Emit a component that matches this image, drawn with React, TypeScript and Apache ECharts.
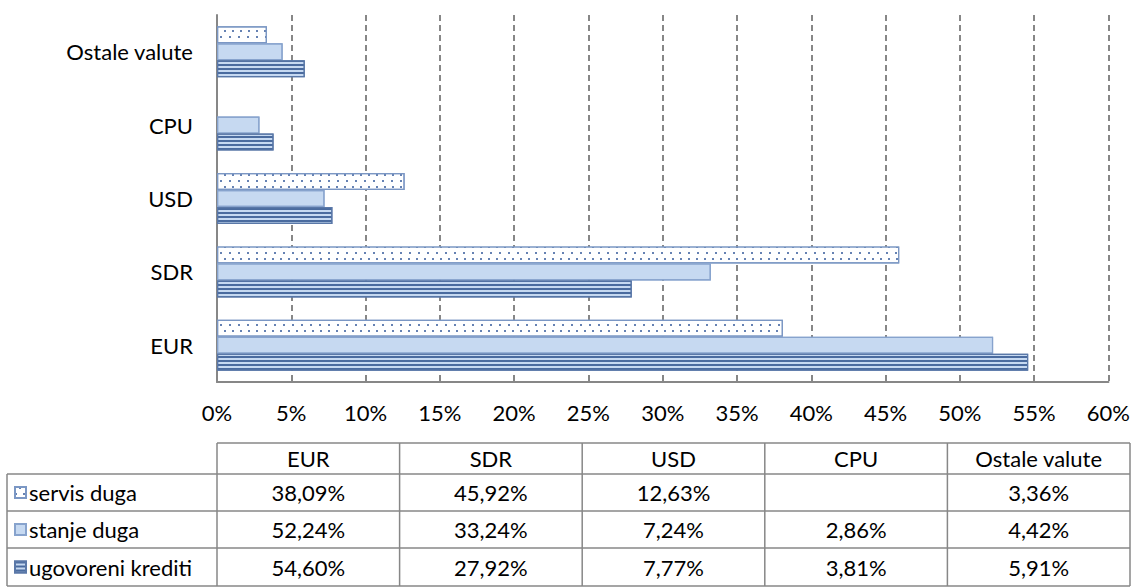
import React, { useEffect, useRef } from "react";
import * as echarts from "echarts";

const categories = ["EUR", "SDR", "USD", "CPU", "Ostale valute"];
const seriesNames = ["servis duga", "stanje duga", "ugovoreni krediti"];
const servisDuga: (number | null)[] = [38.09, 45.92, 12.63, null, 3.36];
const stanjeDuga: (number | null)[] = [52.24, 33.24, 7.24, 2.86, 4.42];
const ugovoreniKrediti: (number | null)[] = [54.6, 27.92, 7.77, 3.81, 5.91];
const seriesValues = [servisDuga, stanjeDuga, ugovoreniKrediti];

const FONT = "Lato";
const FS = 22;

function fmt(v: number | null) {
  if (v == null) return "";
  return v.toFixed(2).replace(".", ",") + "%";
}

export default function App() {
  const ref = useRef<HTMLDivElement>(null);
  useEffect(() => {
    if (!ref.current) return;
    const chart = echarts.init(ref.current, null, { renderer: "svg" });

    const gridColor = "#878787";
    const tLeft = 7;
    const tColStart = 217;
    const tRight = 1130;
    const rowY = [443, 474, 511, 548, 586];
    const colW = (tRight - tColStart) / categories.length;

    const graphics: any[] = [];
    const lineStyle = { stroke: gridColor, lineWidth: 1.5 };
    graphics.push({ type: "line", shape: { x1: tColStart, y1: rowY[0], x2: tRight, y2: rowY[0] }, style: lineStyle });
    for (let i = 1; i < rowY.length; i++) {
      graphics.push({ type: "line", shape: { x1: tLeft, y1: rowY[i], x2: tRight, y2: rowY[i] }, style: lineStyle });
    }
    graphics.push({ type: "line", shape: { x1: tLeft, y1: rowY[1], x2: tLeft, y2: rowY[4] }, style: lineStyle });
    for (let c = 0; c <= categories.length; c++) {
      const x = tColStart + c * colW;
      graphics.push({ type: "line", shape: { x1: x, y1: rowY[0], x2: x, y2: rowY[4] }, style: lineStyle });
    }
    categories.forEach((cat, c) => {
      graphics.push({
        type: "text",
        x: tColStart + (c + 0.5) * colW,
        y: (rowY[0] + rowY[1]) / 2,
        style: { text: cat, fill: "#000", font: `${FS}px ${FONT}`, align: "center", verticalAlign: "middle" },
      });
    });
    seriesValues.forEach((vals, r) => {
      vals.forEach((v, c) => {
        graphics.push({
          type: "text",
          x: tColStart + (c + 0.5) * colW,
          y: (rowY[r + 1] + rowY[r + 2]) / 2,
          style: { text: fmt(v), fill: "#000", font: `${FS}px ${FONT}`, align: "center", verticalAlign: "middle" },
        });
      });
    });

    const styles = [
      {
        color: "#ffffff",
        borderColor: "#7b97c4",
        borderWidth: 1.2,
        decal: {
          symbol: "rect",
          symbolSize: 1,
          color: "#6682b3",
          dashArrayX: [[1.5, 6], [0, 3.75, 1.5, 2.25]],
          dashArrayY: [1.5, 4],
          rotation: 0,
        },
      },
      {
        color: "#c6d9f1",
        borderColor: "#87a3cd",
        borderWidth: 1.2,
        decal: { symbol: "none" },
      },
      {
        color: "#c6d9f1",
        borderColor: "#5a78a8",
        borderWidth: 1.2,
        decal: {
          symbol: "rect",
          symbolSize: 1,
          color: "#4a6b9f",
          dashArrayX: [1, 0],
          dashArrayY: [2, 1.5],
          rotation: 0,
        },
      },
    ];

    const legends = seriesNames.map((name, i) => ({
      data: [{ name, icon: "rect" }],
      left: 14,
      top: (rowY[i + 1] + rowY[i + 2]) / 2 - 11,
      orient: "vertical",
      itemWidth: 11,
      itemHeight: 11,
      selectedMode: false,
      padding: 0,
      textStyle: { fontFamily: FONT, fontSize: FS, color: "#000", lineHeight: 22, padding: [0, 0, 0, -2] },
    }));

    chart.setOption({
      animation: false,
      aria: { enabled: true, decal: { show: true } },
      textStyle: { fontFamily: FONT },
      grid: { left: 217, right: 22, top: 15, bottom: 205, containLabel: false },
      legend: legends,
      xAxis: {
        type: "value",
        min: 0,
        max: 60,
        interval: 5,
        axisLabel: { formatter: (v: number) => `${v}%`, fontFamily: FONT, fontSize: FS, color: "#000", margin: 19 },
        axisLine: { show: true, lineStyle: { color: gridColor, width: 2 } },
        axisTick: { show: false },
        splitLine: { show: true, lineStyle: { color: gridColor, width: 2, type: [6, 4] } },
      },
      yAxis: {
        type: "category",
        data: categories,
        axisLabel: { fontFamily: FONT, fontSize: FS, color: "#000", margin: 24 },
        axisLine: { show: true, lineStyle: { color: gridColor, width: 2 } },
        axisTick: { show: false },
        splitLine: { show: false },
      },
      series: seriesNames.map((name, i) => ({
        name,
        type: "bar",
        data: seriesValues[i],
        barWidth: 17,
        barGap: "0%",
        itemStyle: styles[i],
      })),
      graphic: graphics,
    });

    return () => chart.dispose();
  }, []);

  return (
    <div
      ref={ref}
      style={{ position: "fixed", left: 0, top: 0, width: 1133, height: 587, background: "#fff" }}
    />
  );
}
